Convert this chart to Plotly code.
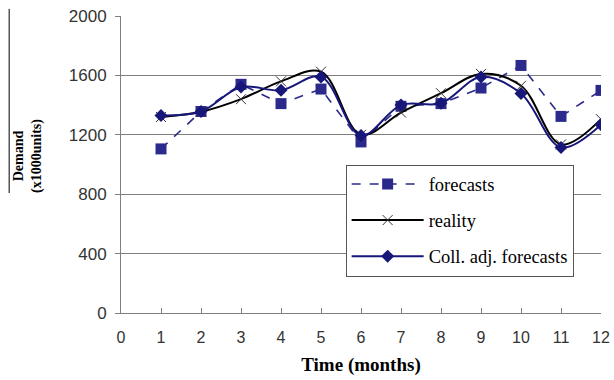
import plotly.graph_objects as go

months = [1, 2, 3, 4, 5, 6, 7, 8, 9, 10, 11, 12]
forecasts = [1105, 1357, 1540, 1410, 1508, 1152, 1392, 1410, 1515, 1667, 1324, 1499]
reality = [1320, 1355, 1440, 1560, 1625, 1200, 1350, 1480, 1610, 1530, 1135, 1305]
coll_adj = [1330, 1357, 1522, 1500, 1590, 1195, 1400, 1412, 1590, 1478, 1115, 1268]

x_ticks = list(range(0, 13))
y_ticks = [0, 400, 800, 1200, 1600, 2000]

navy = "#2b2a8c"
dark_navy = "#17177a"

fig = go.Figure()
fig.add_trace(go.Scatter(
    x=months, y=forecasts, name="forecasts", mode="lines+markers",
    line=dict(color=navy, width=1.6, dash="dash"),
    marker=dict(symbol="square", size=11, color=navy),
    legendgroup="a",
))
fig.add_trace(go.Scatter(
    x=months, y=reality, name="reality", mode="lines+markers",
    line=dict(color="black", width=2, shape="spline", smoothing=1.0),
    marker=dict(symbol="x-thin", size=10, color="#333333", line=dict(width=1, color="#333333")),
    legendgroup="b",
))
fig.add_trace(go.Scatter(
    x=months, y=coll_adj, name="Coll. adj. forecasts", mode="lines+markers",
    line=dict(color=dark_navy, width=2, shape="spline", smoothing=1.0),
    marker=dict(symbol="diamond", size=10, color=dark_navy),
    legendgroup="c",
))

axis_color = "#7f7f7f"
tick_font = dict(family="Liberation Sans, Arial", size=17, color="#333333")
xtick_font = dict(family="Liberation Sans, Arial", size=16, color="#333333")
serif = "Liberation Serif, Times New Roman"

fig.update_layout(
    width=614, height=380,
    margin=dict(l=121, r=13, t=16, b=67),
    paper_bgcolor="white", plot_bgcolor="white",
    showlegend=True,
    legend=dict(
        x=0.468, y=0.5, xanchor="left", yanchor="top",
        bgcolor="white", bordercolor="#555555", borderwidth=1,
        font=dict(family=serif, size=18.5, color="black"),
        traceorder="grouped", tracegroupgap=9,
        itemwidth=72,
    ),
    xaxis=dict(
        range=[0, 12], tickvals=x_ticks, ticktext=[str(v) for v in x_ticks],
        showgrid=False, zeroline=False, showline=True, linecolor=axis_color, linewidth=1,
        ticks="inside", ticklen=5, tickcolor=axis_color, tickfont=xtick_font,
        ticklabelstandoff=10, automargin=False, ticklabeloverflow="allow",
        title=dict(text="<b>Time (months)</b>", font=dict(family=serif, size=19, color="black"), standoff=12),
    ),
    yaxis=dict(
        range=[0, 2000], tickvals=y_ticks, ticktext=[str(v) for v in y_ticks],
        showgrid=True, gridcolor=axis_color, gridwidth=1, zeroline=False,
        showline=True, linecolor=axis_color, linewidth=1,
        ticks="outside", ticklen=5, tickcolor=axis_color, tickfont=tick_font,
        ticklabelstandoff=5, automargin=False,
    ),
)

fig.add_annotation(
    text="<b>Demand<br>(x1000units)</b>", textangle=-90,
    xref="paper", yref="paper", x=-0.195, y=0.53, xanchor="center", yanchor="middle",
    showarrow=False, font=dict(family=serif, size=14, color="black"),
)
fig.add_shape(type="line", xref="paper", yref="paper",
              x0=-0.233, x1=-0.233, y0=0.404, y1=1.024,
              line=dict(color="black", width=1))

fig.write_html("out.html")
